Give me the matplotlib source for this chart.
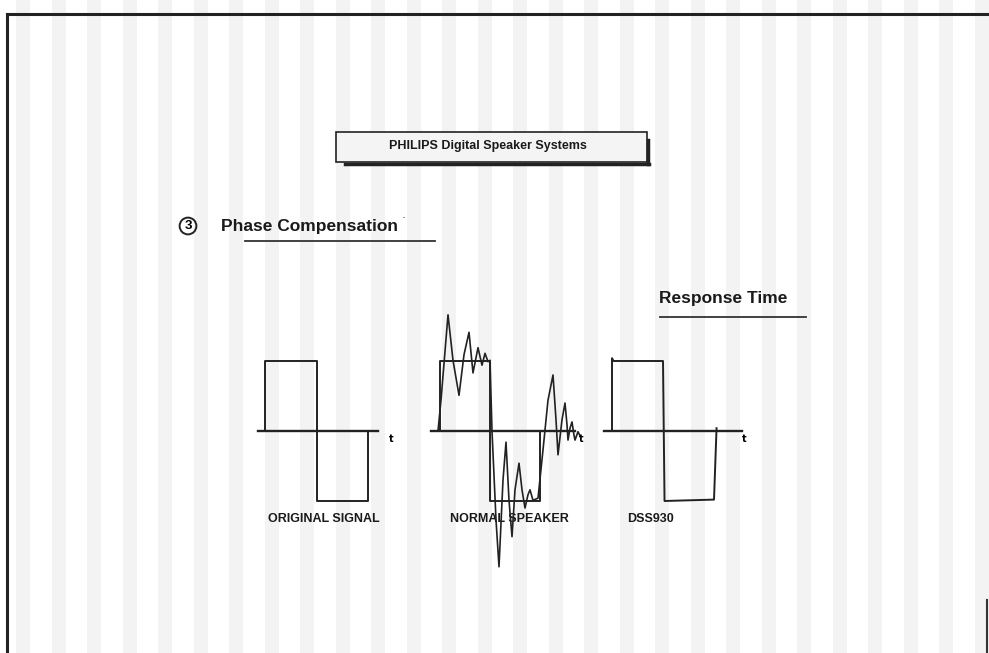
import numpy as np
import matplotlib.pyplot as plt
from matplotlib.patches import Rectangle

# waveforms: time in half-periods, amplitude relative to the square wave
orig_t = [0, 0, 1, 1, 2, 2]
orig_a = [0, 1, 1, -1, -1, 0]

normal_t = [-0.04, 0.02, 0.16, 0.26, 0.38, 0.48, 0.58, 0.66, 0.76, 0.84, 0.90, 0.96, 1.00,
            1.04, 1.12, 1.18, 1.26, 1.32, 1.38, 1.44, 1.50, 1.58, 1.64, 1.70, 1.76, 1.80,
            1.86, 1.96, 2.06, 2.16, 2.26, 2.32, 2.36, 2.44, 2.50, 2.54, 2.56, 2.60, 2.64,
            2.68, 2.70, 2.76, 2.80]
normal_a = [0.0, 0.44, 1.66, 1.01, 0.51, 1.09, 1.41, 0.83, 1.19, 0.94, 1.11, 0.99, 1.01,
            0.0, -1.27, -1.94, -0.70, -0.16, -0.99, -1.51, -0.84, -0.46, -0.84, -1.10, -0.91, -0.84,
            -0.99, -0.96, -0.27, 0.44, 0.80, 0.16, -0.34, 0.16, 0.40, 0.09, -0.13, 0.04, 0.13,
            -0.06, -0.13, -0.01, -0.07]

dss_t = [0, 0, 0.03, 1, 1.03, 2.0, 2.05]
dss_a = [0, 1.04, 1.0, 1.0, -1.0, -0.98, 0.04]

labels = ["ORIGINAL SIGNAL", "NORMAL SPEAKER", "DSS930"]

W, H = 989, 653
fig = plt.figure(figsize=(W / 100, H / 100), dpi=100)
fig.patch.set_facecolor("white")

# background paper + frame, pixel coordinates
bg = fig.add_axes([0, 0, 1, 1])
bg.set_xlim(0, W)
bg.set_ylim(H, 0)
bg.axis("off")
for xs in np.arange(16, W, 35.5):
    bg.axvspan(xs, xs + 14, color="#d4d4d4", alpha=0.28, lw=0)
bg.plot([7, W], [14, 14], color="#222222", lw=2.2)
bg.plot([7, 7], [14, H], color="#222222", lw=2.2)
bg.plot([987, 987], [600, H], color="#333333", lw=1.5)

# title box with shadow
bg.add_patch(Rectangle((336, 132), 311, 30, fill=True, fc="#f4f4f4", ec="#222222", lw=1.2))
bg.plot([345, 649], [164, 164], color="#222222", lw=2.5)
bg.plot([648, 648], [140, 164], color="#222222", lw=2.5)
bg.text(488, 146, "PHILIPS Digital Speaker Systems", ha="center", va="center",
        fontsize=9, fontweight="bold", family="Liberation Sans", color="#1a1a1a")

# heading
bg.text(188, 226, "3", ha="center", va="center", fontsize=9.5, fontweight="bold",
        family="Liberation Sans",
        bbox=dict(boxstyle="circle,pad=0.18", fc="none", ec="#222222", lw=1.4))
bg.text(221, 226, "Phase Compensation", ha="left", va="center", fontsize=12.5,
        fontweight="bold", family="Liberation Sans", color="#1a1a1a")
bg.plot([245, 435], [241, 241], color="#333333", lw=1.3)
bg.text(402, 222, "·", fontsize=9, color="#555555")

bg.text(659, 298, "Response Time", ha="left", va="center", fontsize=12.5,
        fontweight="bold", family="Liberation Sans", color="#1a1a1a")
bg.plot([660, 806], [317, 317], color="#333333", lw=1.3)


def panel(x0, y0, sx, sy, tmin, tmax):
    # axes whose data (t, a) maps to pixels: x = x0 + sx*t, y = y0 - sy*a
    xl, xr = -0.4, 3.0
    yb, yt = -2.4, 2.2
    left = (x0 + sx * xl) / W
    width = sx * (xr - xl) / W
    bottom = 1 - (y0 - sy * yb) / H
    height = sy * (yt - yb) / H
    ax = fig.add_axes([left, bottom, width, height])
    ax.set_xlim(xl, xr)
    ax.set_ylim(yb, yt)
    ax.axis("off")
    ax.patch.set_alpha(0)
    ax.plot([tmin, tmax], [0, 0], color="#222222", lw=1.7)
    return ax


ax1 = panel(265, 431, 51.5, 70, -0.14, 2.19)
ax1.plot(orig_t, orig_a, color="#222222", lw=1.4)
ax1.text(2.45, -0.12, "t", fontsize=7, fontweight="bold", ha="center", va="center")

ax2 = panel(440, 431, 50, 70, -0.18, 2.7)
ax2.plot(orig_t, orig_a, color="#222222", lw=1.4)
ax2.plot(normal_t, normal_a, color="#222222", lw=1.2)
ax2.text(2.82, -0.12, "t", fontsize=7, fontweight="bold", ha="center", va="center")

ax3 = panel(612, 431, 51, 70, -0.16, 2.55)
ax3.plot(dss_t, dss_a, color="#222222", lw=1.4)
ax3.text(2.6, -0.12, "t", fontsize=7, fontweight="bold", ha="center", va="center")

for x, lab in zip([324, 509, 651], labels):
    bg.text(x, 519, lab, ha="center", va="center", fontsize=9, fontweight="bold",
            family="Liberation Sans", color="#1a1a1a")

fig.savefig("out.png", dpi=100)
